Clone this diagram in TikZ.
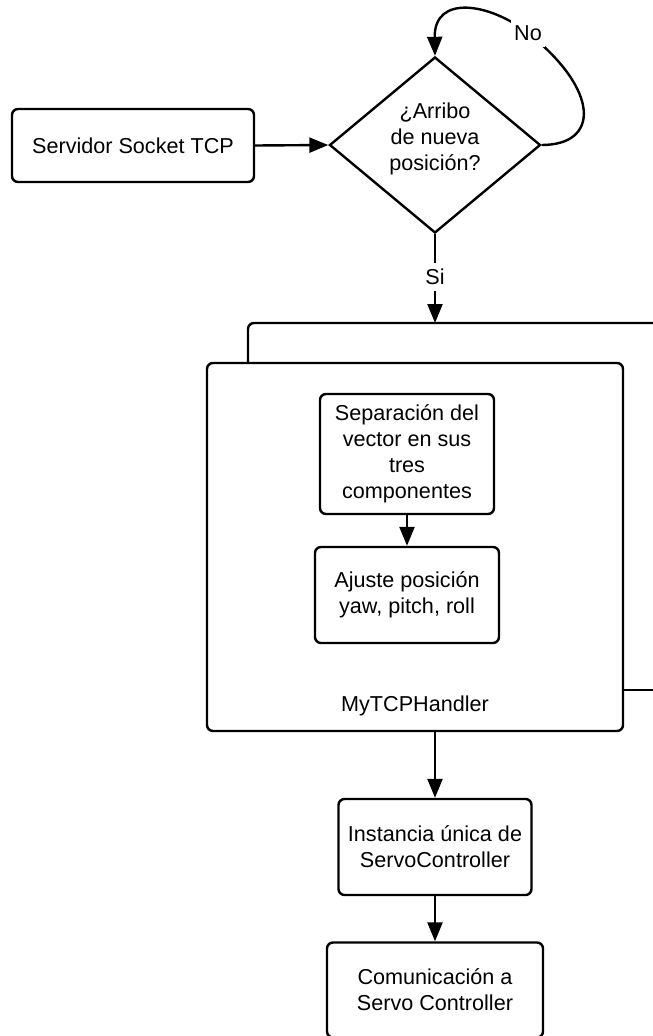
\documentclass[tikz,border=0pt]{standalone}
\usepackage{fontspec}
\setmainfont{Liberation Sans}
\usetikzlibrary{arrows.meta,shapes.geometric}
\tikzset{
  box/.style={draw, line width=2.4pt, rounded corners=6pt, align=center, inner sep=0pt},
  arr/.style={line width=2.4pt, -{Triangle[length=19pt,width=15pt]}},
  ln/.style={line width=2.4pt},
  lbl/.style={fill=white, inner xsep=3pt, inner ysep=6pt, align=center}
}
\begin{document}
\begin{tikzpicture}[x=1pt,y=-1pt,font=\fontsize{21.6}{26}\selectfont]
\useasboundingbox (0,0) rectangle (653,1036);
% outer frame (partially hidden behind the handler box)
\coordinate (fl) at (248,363);
\coordinate (ftop) at (435,323);
\coordinate (fr) at (660,323);
\coordinate (fb) at (660,690);
\draw[ln, rounded corners=6pt] (fl) -- (248,323) -- (fr);
% nodes
\node[box, minimum width=242pt, minimum height=73pt] (srv) at (133,145.5) {Servidor Socket TCP};
\node[draw, diamond, line width=2.4pt, minimum width=211pt, minimum height=176pt, inner sep=0pt] (dec) at (435,145) {};
\node[align=center, inner sep=0pt] (dect) at (435,139) {¿Arribo\\de nueva\\posición?};
\node[box, minimum width=416pt, minimum height=368pt] (hnd) at (415,547) {};
\node[inner sep=0pt] (hndl) at (415,706) {MyTCPHandler};
\node[box, minimum width=174pt, minimum height=120pt] (sep) at (407,454) {Separación del\\vector en sus\\tres\\componentes};
\node[box, minimum width=184pt, minimum height=96pt] (aju) at (407,595) {Ajuste posición\\yaw, pitch, roll};
\node[box, minimum width=193pt, minimum height=96pt] (ins) at (435,847) {Instancia única de\\ServoController};
\node[box, minimum width=216pt, minimum height=95pt] (com) at (435,990) {Comunicación a\\Servo Controller};
\draw[ln] (hnd.east |- fb) -- (fb);
% connectors
\draw[arr] (srv.east) -- (dec.west);
\draw[arr] (dec.east) .. controls (600,145) and (600,90) .. (528,33) node[lbl] (no) {No} .. controls (490,3) and (434,-6) .. (dec.north);
\draw[arr] (dec.south) -- node[lbl, pos=0.48] (si) {Si} (ftop);
\draw[arr] (sep.south) -- (aju.north);
\draw[arr] (hnd.south -| ins.north) -- (ins.north);
\draw[arr] (ins.south) -- (com.north);
\end{tikzpicture}
\end{document}
